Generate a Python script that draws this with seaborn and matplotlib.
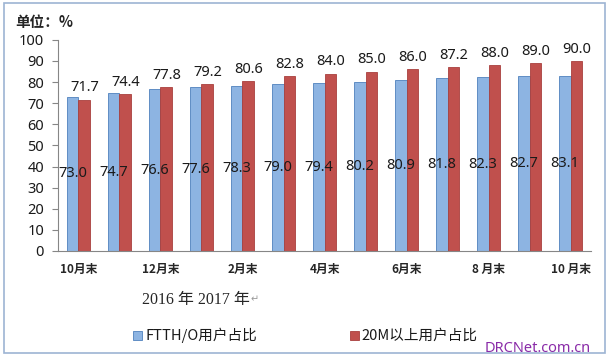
import pandas as pd
import seaborn as sns
import matplotlib.pyplot as plt
from matplotlib.patches import Rectangle

# data
months = ['2016-10', '2016-11', '2016-12', '2017-01', '2017-02', '2017-03', '2017-04',
          '2017-05', '2017-06', '2017-07', '2017-08', '2017-09', '2017-10']
tick_labels = ['10月末', '', '12月末', '', '2月末', '', '4月末', '', '6月末', '', '8 月末', '', '10 月末']
ftth = [73.0, 74.7, 76.6, 77.6, 78.3, 79.0, 79.4, 80.2, 80.9, 81.8, 82.3, 82.7, 83.1]
above20m = [71.7, 74.4, 77.8, 79.2, 80.6, 82.8, 84.0, 85.0, 86.0, 87.2, 88.0, 89.0, 90.0]
series_names = ['FTTH/O用户占比', '20M以上用户占比']

df = pd.DataFrame({
    'month': months * 2,
    'value': ftth + above20m,
    'series': [series_names[0]] * len(months) + [series_names[1]] * len(months),
})

sns.set_style('white')
plt.rcParams['font.family'] = ['Noto Sans CJK SC', 'DejaVu Sans']

fig = plt.figure(figsize=(6.1, 3.59), dpi=100)
ax = fig.add_axes([0.095, 0.301, 0.874, 0.588])

palette = {series_names[0]: '#8DB4E2', series_names[1]: '#C0504D'}
sns.barplot(data=df, x='month', y='value', hue='series', hue_order=series_names,
            palette=palette, width=0.58, gap=0, saturation=1, ax=ax, legend=False)

edges = ['#4F81BD', '#A9403D']
for cont, ec in zip(ax.containers, edges):
    for bar in cont:
        bar.set_edgecolor(ec)
        bar.set_linewidth(0.6)

ax.bar_label(ax.containers[0], fmt='%.1f', label_type='center', fontsize=10.5,
             color='#1a1a1a', family=['Noto Sans', 'DejaVu Sans'])
ax.bar_label(ax.containers[1], fmt='%.1f', padding=3, fontsize=10.5,
             color='#1a1a1a', family=['Noto Sans', 'DejaVu Sans'])

ax.set_ylim(0, 100)
ax.set_xlim(-0.5, len(months) - 0.5)
ax.set_yticks(range(0, 101, 10))
ax.tick_params(axis='y', labelsize=10.5, length=4, color='#868686', labelcolor='#1a1a1a', pad=6)
for t in ax.get_yticklabels():
    t.set_family(['Noto Sans', 'DejaVu Sans'])

ax.set_xticks(range(len(months)))
ax.set_xticklabels(tick_labels, fontsize=8.5, fontweight='bold')
ax.set_xticks([i - 0.5 for i in range(len(months) + 1)], minor=True)
ax.tick_params(axis='x', which='major', length=0, pad=9)
ax.tick_params(axis='x', which='minor', length=4, color='#868686', direction='out')
ax.tick_params(axis='both', which='major', bottom=True, left=True)
ax.set_xlabel('')
ax.set_ylabel('')
for s in ['top', 'right']:
    ax.spines[s].set_visible(False)
for s in ['left', 'bottom']:
    ax.spines[s].set_color('#868686')
    ax.spines[s].set_linewidth(0.8)

# titles and notes
fig.text(0.025, 0.94, '单位：%', fontsize=10.5, fontweight='bold', va='center')
fig.text(0.232, 0.165, '2016 年 2017 年', fontsize=11.5,
         family=['Liberation Serif', 'Noto Sans CJK SC'], va='center')
fig.text(0.411, 0.165, '↵', fontsize=7, color='#999999', va='center')

# legend
fig.patches.append(Rectangle((0.218, 0.052), 0.015, 0.027, transform=fig.transFigure,
                             facecolor='#8DB4E2', edgecolor='#4F81BD', lw=0.6))
fig.text(0.238, 0.066, series_names[0], fontsize=10.5, va='center', color='#1a1a1a')
fig.patches.append(Rectangle((0.573, 0.052), 0.015, 0.027, transform=fig.transFigure,
                             facecolor='#C0504D', edgecolor='#A9403D', lw=0.6))
fig.text(0.592, 0.066, series_names[1], fontsize=10.5, va='center', color='#1a1a1a')

fig.text(0.795, 0.03, 'DRCNet.com.cn', fontsize=10.5, color='#8A2BA8', va='center',
         family=['Noto Sans', 'DejaVu Sans'])

# outer frame
fig.patches.append(Rectangle((0.007, 0.017), 0.985, 0.975, transform=fig.transFigure,
                             fill=False, edgecolor='#9DB4D3', lw=1.2))

fig.savefig('out.png', dpi=100)
